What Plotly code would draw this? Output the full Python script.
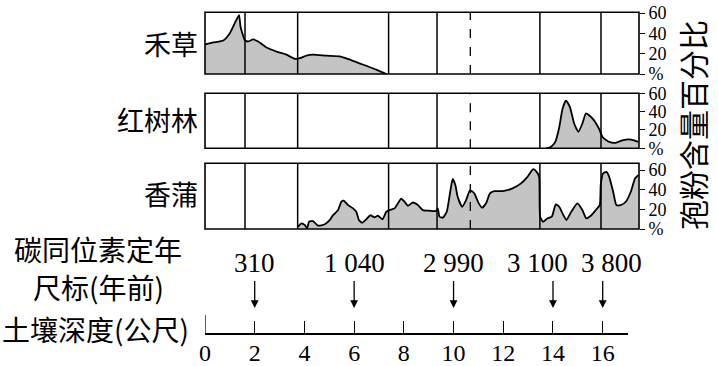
import plotly.graph_objects as go

# ---------------- data ----------------
# depth (m) and pollen percentage for each taxon
grass_depth = [0, 0.33, 0.74, 1.0, 1.2, 1.37, 1.43, 1.61, 1.74, 1.94, 2.14, 2.48, 2.88, 3.28, 3.61,
               3.82, 4.08, 4.35, 4.89, 5.42, 5.69, 6.22, 6.76, 7.30]
grass_pct = [29, 31, 33, 40, 50, 58, 46.5, 33, 32, 34, 32, 26, 22, 19, 15,
             15.5, 18, 19, 18, 17.4, 15.4, 10.5, 5.6, 0]

mangrove_depth = [13.72, 13.92, 14.10, 14.26, 14.39, 14.53, 14.69, 14.86, 15.03, 15.19, 15.33, 15.46,
                  15.66, 15.86, 16.0, 16.27, 16.53, 16.8, 17.07, 17.27, 17.44]
mangrove_pct = [0, 1.5, 7, 23, 43, 52, 45, 27, 18, 27, 38, 36,
                30.5, 21.5, 12.3, 7, 6, 8.7, 9.8, 8.7, 7]

cattail_depth = [3.75, 3.88, 4.02, 4.11, 4.19, 4.35, 4.55, 4.82, 5.02, 5.15, 5.35, 5.49, 5.58, 5.76,
                 5.96, 6.09, 6.2, 6.33, 6.49, 6.65, 6.83, 6.96, 7.14, 7.30, 7.43, 7.63, 7.76, 7.90,
                 8.03, 8.17, 8.37, 8.57, 8.77, 9.04, 9.30, 9.37, 9.44, 9.57, 9.73, 9.87, 9.97,
                 10.08, 10.17, 10.35, 10.51, 10.67, 10.84, 11.02, 11.15, 11.31, 11.47, 11.65,
                 11.98, 12.38, 12.72, 12.98, 13.21, 13.35, 13.45, 13.49, 13.61, 13.79, 13.96,
                 14.12, 14.26, 14.39, 14.55, 14.73, 14.99, 15.19, 15.35, 15.53, 15.73, 15.89,
                 15.93, 16.02, 16.16, 16.27, 16.43, 16.56, 16.73, 16.94, 17.14, 17.31, 17.44]
cattail_pct = [2.3, 5.8, 4, 0.7, 7.5, 8, 3.4, 4.8, 9, 14, 19, 28, 29, 24.4,
               21, 17.6, 9, 6.4, 9.9, 14, 11.9, 13.5, 9.9, 17.6, 19.3, 21, 26, 31,
               27.8, 23.7, 27, 24.4, 19.3, 18.6, 18.3, 21, 12.5, 11.5, 17.6, 38, 51,
               44.7, 32.9, 22.7, 29.5, 39.7, 36.3, 26.1, 21.7, 26.1, 36.3, 38.6,
               38.6, 41.4, 46.5, 53.2, 61, 58.3, 53.2, 12.5, 7.4, 10.9, 12.5,
               25.1, 22.7, 16, 9.2, 17, 26.1, 19.3, 10.9, 13.5, 19.3, 24.4,
               44.7, 56.6, 58.3, 53.2, 38, 24.4, 24.4, 27.8, 38, 51.5, 55]

taxa = ["禾草", "红树林", "香蒲"]
boundary_depths = [1.61, 3.73, 7.39, 9.34, 13.48, 15.94]
dashed_depth = 10.68

dating_depths = [2, 6, 10, 14, 16]
dating_labels = ["310", "1 040", "2 990", "3 100", "3 800"]
depth_ticks = [0, 2, 4, 6, 8, 10, 12, 14, 16]
pct_ticks = [0, 20, 40, 60]
pct_ticktext = ["%", "20", "40", "60"]

# ---------------- figure ----------------
W, H = 718, 366
def px_x(p): return p / W
def px_y(p): return 1 - p / H

SERIF = "Liberation Serif"
CJK = "Noto Sans CJK SC"
FILL = "#c4c4c4"

fig = go.Figure()
series = [(grass_depth, grass_pct, "y"), (mangrove_depth, mangrove_pct, "y2"),
          (cattail_depth, cattail_pct, "y3")]
for d, v, ya in series:
    fig.add_trace(go.Scatter(x=d, y=v, xaxis="x", yaxis=ya, mode="lines",
                             line=dict(color="black", width=1.8, shape="spline", smoothing=0.5),
                             fill="tozeroy", fillcolor=FILL, showlegend=False, hoverinfo="skip"))
# dummy trace to register the depth axis
fig.add_trace(go.Scatter(x=[0], y=[None], xaxis="x4", yaxis="y", showlegend=False, hoverinfo="skip"))

panel_px = [(12.3, 74.0), (93.3, 148.3), (163.3, 229.0)]
yranges = [[0, 60.7], [0, 60], [0, 67]]
x_lo, x_hi = 205, 639
xmax = 17.47

layout = dict(
    width=W, height=H, margin=dict(l=0, r=0, t=0, b=0, pad=0), autosize=False,
    paper_bgcolor="white", plot_bgcolor="rgba(0,0,0,0)",
    xaxis=dict(domain=[px_x(x_lo), px_x(x_hi)], range=[0, xmax], visible=False, anchor="y3",
               automargin=False),
    xaxis4=dict(domain=[px_x(205), px_x(628.3)], range=[0, 17.03], anchor="free",
                position=px_y(334), showline=True, linecolor="black", linewidth=1.5,
                ticks="inside", ticklen=12, tickwidth=1.3, tickcolor="black",
                tickvals=depth_ticks, showgrid=False, zeroline=False, automargin=False,
                ticklabelstandoff=-3,
                tickfont=dict(family=SERIF, size=24, color="black")),
)
for i, ((top, bot), yr) in enumerate(zip(panel_px, yranges)):
    key = "yaxis" if i == 0 else f"yaxis{i+1}"
    layout[key] = dict(domain=[px_y(bot), px_y(top)], range=yr, side="right", anchor="x",
                       tickvals=pct_ticks, ticktext=pct_ticktext, ticks="outside", ticklen=5,
                       tickwidth=1.3, tickcolor="black", showgrid=False, zeroline=False,
                       showline=False, automargin=False,
                       tickfont=dict(family=SERIF, size=18, color="black"))
fig.update_layout(**layout)

shapes = []
for i in range(3):
    yd = "y domain" if i == 0 else f"y{i+1} domain"
    shapes.append(dict(type="rect", xref="x domain", yref=yd, x0=0, x1=1, y0=0, y1=1,
                       line=dict(color="black", width=1.6)))
    for b in boundary_depths:
        shapes.append(dict(type="line", xref="x", yref=yd, x0=b, x1=b, y0=0, y1=1,
                           line=dict(color="black", width=1.5)))
    shapes.append(dict(type="line", xref="x", yref=yd, x0=dashed_depth, x1=dashed_depth,
                       y0=0, y1=1, line=dict(color="black", width=1.3, dash="dash")))
# taller origin mark on depth axis
shapes.append(dict(type="line", xref="x4", yref="paper", x0=0, x1=0, y0=px_y(334), y1=px_y(315),
                   line=dict(color="black", width=1.3)))
fig.update_layout(shapes=shapes)

ann = []
# taxa labels
label_y = [43, 120, 193]
for t, yy in zip(taxa, label_y):
    ann.append(dict(text=t, x=px_x(200), y=px_y(yy), xref="paper", yref="paper",
                    xanchor="right", yanchor="middle", showarrow=False,
                    font=dict(family=CJK, size=27, color="black")))
# left side axis titles
for t, xx, yy in [("碳同位素定年", 98, 249), ("尺标(年前)", 98, 287), ("土壤深度(公尺)", 95, 329)]:
    ann.append(dict(text=t, x=px_x(xx), y=px_y(yy), xref="paper", yref="paper",
                    xanchor="center", yanchor="middle", showarrow=False,
                    font=dict(family=CJK, size=28, color="black")))
# right vertical title
ann.append(dict(text="孢粉含量百分比", x=px_x(692), y=px_y(125), xref="paper", yref="paper",
                xanchor="center", yanchor="middle", textangle=-90, showarrow=False,
                font=dict(family=CJK, size=30, color="black")))
# dating arrows and labels
label_shift = {"3 100": -15, "3 800": 9}
for d, lab in zip(dating_depths, dating_labels):
    ann.append(dict(text=" ", x=d, y=px_y(308), xref="x4", yref="paper", showarrow=True,
                    ax=0, ay=-30, arrowhead=2, arrowsize=1.2, arrowwidth=1.3, arrowcolor="black",
                    font=dict(size=2)))
    ann.append(dict(text=lab, x=d, y=px_y(263), xref="x4", yref="paper", showarrow=False,
                    xanchor="center", yanchor="middle", xshift=label_shift.get(lab, 0),
                    font=dict(family=SERIF, size=27, color="black")))
fig.update_layout(annotations=ann)

fig.write_html("out.html")
